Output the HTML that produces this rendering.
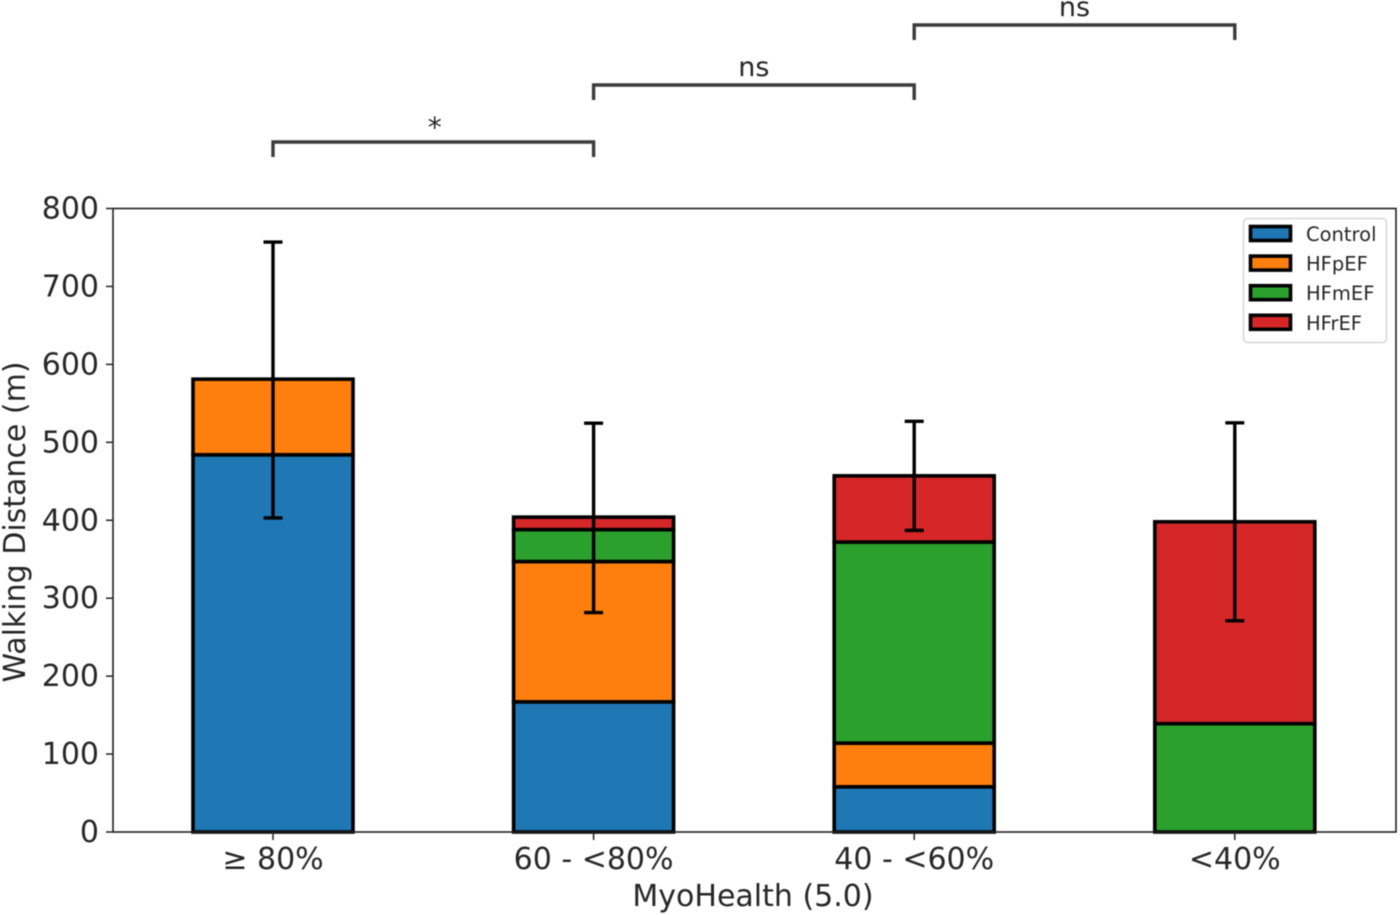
<!DOCTYPE html>
<html><head><meta charset="utf-8">
<style>
html,body{margin:0;padding:0;background:#fff;width:1400px;height:915px;overflow:hidden}
svg{display:block;filter:blur(0.4px)}
text{font-family:"DejaVu Sans","Liberation Sans",sans-serif;fill:#262626}
</style></head>
<body>
<svg id="chart" width="1400" height="915" viewBox="0 0 1400 915" xmlns="http://www.w3.org/2000/svg"></svg>
<script>
const categories = ['\u2265 80%', '60 - <80%', '40 - <60%', '<40%'];
const seriesNames = ['Control', 'HFpEF', 'HFmEF', 'HFrEF'];
const controlValues = [484, 167, 58, 0];
const hfpefValues = [97, 180, 56, 0];
const hfmefValues = [0, 41, 258, 139];
const hfrefValues = [0, 16, 85, 259];
const errorCenters = [580, 403, 457, 398];
const errorSizes = [177, 121.5, 70, 127];
const yTicks = [0, 100, 200, 300, 400, 500, 600, 700, 800];
const sigFromCategory = [0, 1, 2];
const sigLabels = ['*', 'ns', 'ns'];

const colors = ['#1f77b4', '#ff7f0e', '#2ca02c', '#d62728'];
const allSeries = [controlValues, hfpefValues, hfmefValues, hfrefValues];
const NS = 'http://www.w3.org/2000/svg';
const svg = document.getElementById('chart');
const plot = {left: 113, right: 1396, top: 208.5, bottom: 832};
const yMax = 800;
const catStep = 320.6, catStart = 273, barWidth = 160;
const x = i => catStart + i * catStep;
const y = v => plot.bottom - (v / yMax) * (plot.bottom - plot.top);

function make(tag, attrs, parent, text) {
  const el = document.createElementNS(NS, tag);
  for (const k in attrs) el.setAttribute(k, attrs[k]);
  if (text !== undefined) el.textContent = text;
  (parent || svg).appendChild(el);
  return el;
}

// bars
allSeries.forEach((vals, s) => {
  vals.forEach((v, i) => {
    if (v <= 0) return;
    let base = 0;
    for (let k = 0; k < s; k++) base += allSeries[k][i];
    const r = make('rect', {x: x(i) - barWidth / 2, y: y(base + v), width: barWidth, height: y(base) - y(base + v), fill: colors[s], stroke: '#000', 'stroke-width': 3.6});
    
    
  });
});

// error bars
categories.forEach((c, i) => {
  const g = make('g', {stroke: '#000', 'stroke-width': 3.4, fill: 'none'});
  
  
  const top = y(errorCenters[i] + errorSizes[i]), bot = y(errorCenters[i] - errorSizes[i]);
  make('line', {x1: x(i), x2: x(i), y1: top, y2: bot}, g);
  make('line', {x1: x(i) - 9.5, x2: x(i) + 9.5, y1: top, y2: top}, g);
  make('line', {x1: x(i) - 9.5, x2: x(i) + 9.5, y1: bot, y2: bot}, g);
});

// axes frame
const frame = make('rect', {x: plot.left, y: plot.top, width: plot.right - plot.left, height: plot.bottom - plot.top, fill: 'none', stroke: '#222', 'stroke-width': 1.6});



// y ticks
yTicks.forEach(t => {
  const tick = make('line', {x1: plot.left - 7, x2: plot.left, y1: y(t), y2: y(t), stroke: '#222', 'stroke-width': 1.5});
  
  
  const lab = make('text', {x: plot.left - 14, y: y(t) + 10, 'text-anchor': 'end', 'font-size': 30}, svg, String(t));
  
  
});

// x ticks
categories.forEach((c, i) => {
  const tick = make('line', {x1: x(i), x2: x(i), y1: plot.bottom, y2: plot.bottom + 8, stroke: '#222', 'stroke-width': 1.5});
  
  
  const lab = make('text', {x: x(i), y: 869, 'text-anchor': 'middle', 'font-size': 30}, svg, c);
  
  
});

// axis titles
const xTitle = make('text', {x: 753, y: 906, 'text-anchor': 'middle', 'font-size': 30}, svg, 'MyoHealth (5.0)');


const yTitle = make('text', {transform: 'translate(25 522) rotate(-90)', 'text-anchor': 'middle', 'font-size': 30}, svg, 'Walking Distance (m)');



// significance brackets
const bracketTops = [142, 85, 25];
sigFromCategory.forEach((c, i) => {
  const g = make('g', {});
  
  
  const x1 = x(c), x2 = x(c + 1), t = bracketTops[i];
  make('path', {d: `M${x1} ${t + 15}V${t}H${x2}V${t + 15}`, fill: 'none', stroke: '#3c3c3c', 'stroke-width': 3.4}, g);
  make('text', {x: (x1 + x2) / 2 + (sigLabels[i] === '*' ? 1.5 : 0), y: sigLabels[i] === '*' ? t - 5 : t - 9, 'text-anchor': 'middle', 'font-size': sigLabels[i] === '*' ? 28 : 27}, g, sigLabels[i]);
});

// legend
const legend = make('g', {});


make('rect', {x: 1243.5, y: 218.5, width: 143, height: 124, rx: 4, fill: '#fff', 'fill-opacity': 0.8, stroke: '#d8d8d8', 'stroke-width': 1.5}, legend);
seriesNames.forEach((n, i) => {
  const ey = 233.5 + i * 29.6;
  const g = make('g', {}, legend);
  
  
  make('rect', {x: 1250.5, y: ey - 7, width: 40, height: 14, fill: colors[i], stroke: '#000', 'stroke-width': 3.6}, g);
  make('text', {x: 1306, y: ey + 7.5, 'font-size': 19.5}, g, n);
});
</script>
</body></html>
